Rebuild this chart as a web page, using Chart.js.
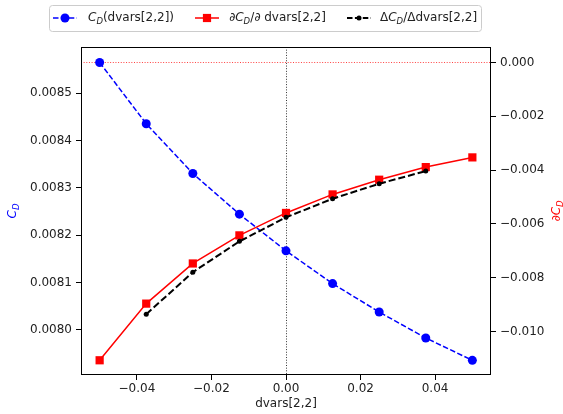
<!DOCTYPE html>
<html>
<head>
<meta charset="utf-8">
<script src="https://cdn.jsdelivr.net/npm/chart.js@4.4.0/dist/chart.umd.min.js"></script>
<style>
  body { margin: 0; background: #fff; }
  #chart { display: block; }
</style>
</head>
<body>
<canvas id="chart" width="563" height="414"></canvas>
<script>
// data
const dvars = [-0.05, -0.0375, -0.025, -0.0125, 0, 0.0125, 0.025, 0.0375, 0.05];
const cdValues = [0.0085647, 0.0084353, 0.0083302, 0.0082444, 0.0081670, 0.0080979, 0.0080378, 0.0079831, 0.0079359];
const gradValues = [-0.011063, -0.008959, -0.007468, -0.006424, -0.005591, -0.004903, -0.004357, -0.003888, -0.003528];
const fdDvars = [-0.0375, -0.025, -0.0125, 0, 0.0125, 0.025, 0.0375];
const fdValues = [-0.009353, -0.007792, -0.006647, -0.005755, -0.005063, -0.004506, -0.004037];

const xTicks = [-0.04, -0.02, 0, 0.02, 0.04];
const cdTicks = [0.0080, 0.0081, 0.0082, 0.0083, 0.0084, 0.0085];
const gradTicks = [-0.010, -0.008, -0.006, -0.004, -0.002, 0];
const zeroLevel = 0;   // dotted reference lines at x = 0 and dCD = 0

const FONT = '"DejaVu Sans", sans-serif';
const minus = (s) => s.replace('-', '\u2212');
const toPts = (xs, ys) => xs.map((x, i) => ({ x: x, y: ys[i] }));

// draw text made of parts, some italic or subscript
function partFont(p) {
    const size = p.sub ? 8.5 : 12;
    return (p.italic ? 'italic ' : '') + size + 'px ' + FONT;
}
function richWidth(ctx, parts) {
    let w = 0;
    parts.forEach(p => {
        ctx.font = partFont(p);
        w += ctx.measureText(p.t).width;
    });
    return w;
}
function drawRich(ctx, parts, x, y, color) {
    ctx.fillStyle = color;
    ctx.textBaseline = 'middle';
    ctx.textAlign = 'left';
    parts.forEach(p => {
        ctx.font = partFont(p);
        ctx.fillText(p.t, x, y + (p.sub ? 3.5 : 0));
        x += ctx.measureText(p.t).width;
    });
}

const cdLabel = [{ t: 'C', italic: true }, { t: 'D', italic: true, sub: true }];
const gradLabel = [{ t: '\u2202' }, { t: 'C', italic: true }, { t: 'D', italic: true, sub: true }];
const legendItems = [
    { parts: [{ t: 'C', italic: true }, { t: 'D', italic: true, sub: true }, { t: '(dvars[2,2])' }],
      color: '#0000ff', dash: [5.5, 2.4], width: 1.5, marker: 'circle', size: 4.5, x0: 53, tx: 88 },
    { parts: [{ t: '\u2202' }, { t: 'C', italic: true }, { t: 'D', italic: true, sub: true }, { t: '/\u2202 dvars[2,2]' }],
      color: '#ff0000', dash: [], width: 1.5, marker: 'rect', size: 4.1, x0: 195, tx: 229 },
    { parts: [{ t: '\u0394' }, { t: 'C', italic: true }, { t: 'D', italic: true, sub: true }, { t: '/\u0394dvars[2,2]' }],
      color: '#000000', dash: [5.5, 2.4], width: 2, marker: 'circle', size: 2.5, x0: 347, tx: 380 }
];

const decorPlugin = {
    id: 'decor',
    beforeDatasetsDraw(chart) {
        const ctx = chart.ctx;
        const a = chart.chartArea;
        const y0 = Math.round(chart.scales.y2.getPixelForValue(zeroLevel)) + 0.5;
        const x0 = Math.round(chart.scales.x.getPixelForValue(zeroLevel)) + 0.5;
        ctx.save();
        ctx.lineWidth = 1;
        ctx.setLineDash([1, 1.65]);
        ctx.strokeStyle = 'rgba(255,0,0,0.75)';
        ctx.beginPath(); ctx.moveTo(a.left, y0); ctx.lineTo(a.right, y0); ctx.stroke();
        ctx.strokeStyle = '#000';
        ctx.lineWidth = 0.8;
        ctx.beginPath(); ctx.moveTo(x0, a.top); ctx.lineTo(x0, a.bottom); ctx.stroke();
        ctx.restore();
    },
    afterDraw(chart) {
        const ctx = chart.ctx;
        const a = chart.chartArea;
        ctx.save();
        // frame
        ctx.strokeStyle = '#000';
        ctx.lineWidth = 1;
        ctx.strokeRect(Math.round(a.left) + 0.5, Math.round(a.top) + 0.5,
                       Math.round(a.right - a.left) - 1, Math.round(a.bottom - a.top) - 1);

        // axis titles
        const midY = (a.top + a.bottom) / 2;
        ctx.save();
        ctx.translate(13, midY);
        ctx.rotate(-Math.PI / 2);
        drawRich(ctx, cdLabel, -richWidth(ctx, cdLabel) / 2, 0, '#0000ff');
        ctx.restore();
        ctx.save();
        ctx.translate(557, midY);
        ctx.rotate(-Math.PI / 2);
        drawRich(ctx, gradLabel, -richWidth(ctx, gradLabel) / 2, 0, '#ff0000');
        ctx.restore();
        ctx.fillStyle = '#222';
        ctx.font = '12px ' + FONT;
        ctx.textAlign = 'center';
        ctx.textBaseline = 'middle';
        ctx.fillText('dvars[2,2]', (a.left + a.right) / 2, 404);

        // legend
        ctx.beginPath();
        ctx.roundRect(49.5, 5.5, 432, 26, 3);
        ctx.fillStyle = 'rgba(255,255,255,0.8)';
        ctx.fill();
        ctx.strokeStyle = '#cccccc';
        ctx.lineWidth = 1;
        ctx.stroke();
        const ly = 18;
        legendItems.forEach(it => {
            ctx.strokeStyle = it.color;
            ctx.fillStyle = it.color;
            ctx.lineWidth = it.width;
            ctx.setLineDash(it.dash);
            ctx.beginPath(); ctx.moveTo(it.x0, ly); ctx.lineTo(it.x0 + 24, ly); ctx.stroke();
            ctx.setLineDash([]);
            const cx = it.x0 + 12;
            ctx.beginPath();
            if (it.marker === 'circle') ctx.arc(cx, ly, it.size, 0, Math.PI * 2);
            else ctx.rect(cx - it.size, ly - it.size, it.size * 2, it.size * 2);
            ctx.fill();
            drawRich(ctx, it.parts, it.tx, ly, '#222');
        });
        ctx.restore();
    }
};

const tickGrid = { display: true, drawOnChartArea: false, drawTicks: true, tickLength: 5, color: '#000', lineWidth: 1 };
const tickFont = { family: FONT, size: 12 };

new Chart(document.getElementById('chart').getContext('2d'), {
    type: 'line',
    data: {
        datasets: [
            {
                data: toPts(dvars, cdValues), yAxisID: 'y', order: 3,
                borderColor: '#0000ff', backgroundColor: '#0000ff', borderWidth: 1.5, borderDash: [5.5, 2.4],
                pointStyle: 'circle', pointRadius: 4.5, pointBorderWidth: 0, tension: 0
            },
            {
                data: toPts(dvars, gradValues), yAxisID: 'y2', order: 2,
                borderColor: '#ff0000', backgroundColor: '#ff0000', borderWidth: 1.5,
                pointStyle: 'rect', pointRadius: 5.8, pointBorderWidth: 0, tension: 0
            },
            {
                data: toPts(fdDvars, fdValues), yAxisID: 'y2', order: 1,
                borderColor: '#000000', backgroundColor: '#000000', borderWidth: 2, borderDash: [7, 3],
                pointStyle: 'circle', pointRadius: 2.5, pointBorderWidth: 0, tension: 0
            }
        ]
    },
    options: {
        responsive: false,
        animation: false,
        layout: { padding: { top: 47, left: 0, right: 0, bottom: 0 } },
        plugins: { legend: { display: false }, tooltip: { enabled: false } },
        scales: {
            x: {
                type: 'linear', position: 'bottom', min: -0.055, max: 0.055,
                grid: tickGrid, border: { display: false },
                afterBuildTicks: (s) => { s.ticks = xTicks.map(v => ({ value: v })); },
                afterFit: (s) => { s.height = 39; },
                ticks: { font: tickFont, color: '#222', padding: 2, maxRotation: 0,
                         callback: (v) => minus(v.toFixed(2)) }
            },
            y: {
                type: 'linear', position: 'left', min: 0.0079049, max: 0.0085973,
                grid: tickGrid, border: { display: false },
                afterBuildTicks: (s) => { s.ticks = cdTicks.map(v => ({ value: v })); },
                afterFit: (s) => { s.width = 81; },
                ticks: { font: tickFont, color: '#222', padding: 4, callback: (v) => v.toFixed(4) }
            },
            y2: {
                type: 'linear', position: 'right', min: -0.01161, max: 0.000572,
                grid: tickGrid, border: { display: false },
                afterBuildTicks: (s) => { s.ticks = gradTicks.map(v => ({ value: v })); },
                afterFit: (s) => { s.width = 72; },
                ticks: { font: tickFont, color: '#222', padding: 4,
                         callback: (v) => minus(v.toFixed(3)) }
            }
        }
    },
    plugins: [decorPlugin]
});
</script>
</body>
</html>
